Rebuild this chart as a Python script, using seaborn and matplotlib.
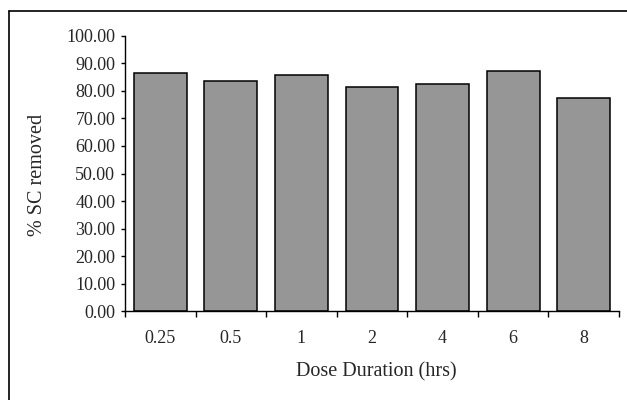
import matplotlib
matplotlib.use("Agg")
import matplotlib.pyplot as plt
from matplotlib.lines import Line2D
import numpy as np
import pandas as pd
import seaborn as sns

# Dose durations (hours) and percentage of stratum corneum removed
durations = ["0.25", "0.5", "1", "2", "4", "6", "8"]
sc_removed = [86.4, 83.6, 85.8, 81.3, 82.6, 87.3, 77.5]
y_ticks = [0, 10, 20, 30, 40, 50, 60, 70, 80, 90, 100]

sns.set_style("white")
plt.rcParams["font.family"] = ["Liberation Serif", "DejaVu Serif"]

df = pd.DataFrame({"duration": durations, "removed": sc_removed})

fig = plt.figure(figsize=(6.27, 4.0), dpi=100)
ax = fig.add_axes([0.1994, 0.2213, 0.7878, 0.6895])

sns.barplot(data=df, x="duration", y="removed", order=durations,
            color="#969696", saturation=1, edgecolor="black",
            linewidth=1.1, width=0.75, ax=ax)

ax.set_ylim(0, 100)
ax.set_xlim(-0.5, len(durations) - 0.5)
ax.set_yticks(y_ticks)
ax.set_yticklabels([f"{v:.2f}" for v in y_ticks])

# category labels centred on the bars, tick marks between categories
ax.set_xticks(np.arange(-0.5, len(durations)), labels=[""] * (len(durations) + 1))
ax.set_xticks(np.arange(len(durations)), labels=durations, minor=True)
ax.tick_params(axis="x", which="major", direction="out", length=4, width=1,
               color="black", bottom=True)
ax.tick_params(axis="x", which="minor", length=0, pad=13, labelsize=13)
ax.tick_params(axis="y", direction="out", length=3, width=1, color="black",
               left=True, pad=4, labelsize=13)

for side in ("top", "right"):
    ax.spines[side].set_visible(False)
for side in ("left", "bottom"):
    ax.spines[side].set_color("black")
    ax.spines[side].set_linewidth(1.0)

ax.set_xlabel("Dose Duration (hrs)", fontsize=14.5, va="center")
ax.xaxis.set_label_coords(0.5095, -0.2195)
ax.set_ylabel("% SC removed", fontsize=14.5, va="center")
ax.yaxis.set_label_coords(-0.178, 0.495)

# frame around the chart area
fig.add_artist(Line2D([8.5 / 627, 8.5 / 627], [0, 1 - 10.5 / 400],
                      color="black", linewidth=1.2))
fig.add_artist(Line2D([8.5 / 627, 1], [1 - 10.5 / 400, 1 - 10.5 / 400],
                      color="black", linewidth=1.2))

fig.savefig("out.png", dpi=100)
